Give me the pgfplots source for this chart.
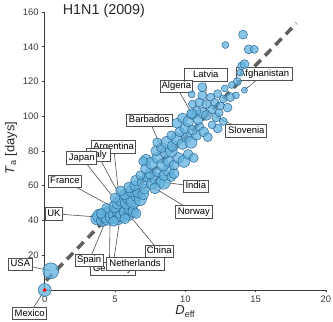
\documentclass[border=0pt]{standalone}
\usepackage{pgfplots}
\pgfplotsset{compat=1.18}
\usepackage{fontspec}
\setmainfont{Liberation Sans}
\definecolor{fillb}{RGB}{98,178,222}
\definecolor{edgeb}{RGB}{45,105,150}
\definecolor{dashg}{RGB}{95,95,95}
\definecolor{axg}{RGB}{60,60,60}
\definecolor{boxg}{RGB}{80,80,80}
\tikzset{lbl/.style={draw=boxg, fill=white, line width=0.7pt, font=\fontsize{9.5}{11}\selectfont, inner xsep=1.5pt, inner ysep=0pt, minimum height=12.5pt, text height=7pt, text depth=2pt}}
\pgfplotstableread{
x y r
0 0 6.5
0.43 11 8
3.7 41 6
3.9 42.5 7
4.1 40 6
4.3 43 7.5
4.5 41 6.5
4.6 45 6
4.8 42 7
5.0 44 7
5.2 41 6
5.3 46 7.5
5.5 43 6.5
5.6 48 6
5.8 45 7
6.0 43 5.5
6.1 47 6.5
6.3 45 5.5
4.4 47 5
5.0 48 6
4.0 44 5
6.5 44 5
5.7 41 5
4.9 39.5 5
5.2 50 6
5.5 52 7
5.8 50 6
6.0 53 6.5
6.3 51 7
6.5 54 5.5
6.8 52 6
5.7 55 5.5
6.2 57 6
6.6 56 5
7.0 55 5.5
6.0 59 5.5
6.4 60 5
7.1 58 5
5.0 53 5
5.4 57 5
6.5 63 5.5
7.0 62 6
7.3 65 5.5
7.6 61 5.5
7.9 64 6
8.2 62 5.5
8.43 62 7
7.84 58.5 5.5
7.5 67 5.5
8.0 68 5
8.5 66 5.5
8.8 69 6
6.8 66 4.5
7.2 70 5.5
9.0 65 4.5
9.2 67 5
7.2 75 5.5
7.6 73 6
8.0 76 5.5
8.4 72 6
8.8 74 5.5
9.2 72 5
9.5 76 5.5
9.9 74 6
10.2 78 5
8.6 79 5.5
9.0 80 6
7.9 80 5
10.6 76 4.5
7.0 74 4.5
8.3 82 5
8.7 85 6
9.1 83 5.5
9.4 87 6
9.8 84 5.5
10.1 88 5.5
10.4 85 6
10.8 89 5
9.0 89 4.5
9.6 91 5
10.0 93 5.5
10.5 92 5
11.0 94 4.5
11.3 91 5
8.0 85 4.5
11.6 88 4.5
12.3 93 4.5
11.9 95 4
9.4 96 5
9.8 99 5
10.2 97 5.5
10.5 101 5
10.9 98 5
11.2 102 5.5
11.5 100.5 5
11.9 104 4.5
12.2 99.4 4.5
12.4 102 4
12.7 97 4
10.8 103 4.5
10.45 101.5 5
10.5 107 4
11.0 108 4.5
11.5 107 4.5
12.1 108 4
12.5 106 4
13.0 105 4.5
11.2 112 4.5
11.8 111 4
12.3 113 4
12.7 110 4
13.2 111 4.5
13.6 112 3.5
10.45 112.6 3.5
11.2 116.7 4.5
12.8 116 3.5
13.3 118 3.5
13.7 120 4
14.2 115 3
14.0 129 4
14.2 130 4.5
13.9 125 3.5
14.5 138.5 4.5
14.9 138.5 4
12.85 141 3.5
14.1 147 4.5
}\pts
\begin{document}
\begin{tikzpicture}
\begin{axis}[
 width=281.3bp, height=278bp, scale only axis,
 xmin=0, xmax=20, ymin=0, ymax=160,
 axis x line=bottom, axis y line=left,
 axis line style={-, axg, line width=0.7pt},
 xtick={0,5,10,15,20}, ytick={20,40,...,160},
 tick align=outside, major tick length=2.5pt,
 tick style={axg, line width=0.6pt},
 ticklabel style={font=\fontsize{9.5}{11}\selectfont, text=axg},
 /pgf/number format/assume math mode=true,
 clip=false,
]
\addplot[scatter, only marks, mark=*,
 scatter/use mapped color={draw=edgeb, fill=fillb},
 mark options={fill opacity=0.75, line width=0.5pt},
 visualization depends on={\thisrow{r}\as\rr},
 scatter/@pre marker code/.append style={/tikz/mark size=\rr pt}]
 table[x=x,y=y,meta=r]{\pts};
\addplot[only marks, mark=*, mark size=1.6pt, color=red] coordinates {(0,0)};
\addplot[dashg, line width=3.5pt, dash pattern=on 9pt off 6pt] coordinates {(0.1,5.4) (17.9,153.5)};

% connectors
\draw[boxg, line width=0.6pt] (axis cs:11.45,123.7) -- (axis cs:11.5,100.5);
\draw[boxg, line width=0.6pt] (axis cs:9.36,117.2) -- (axis cs:10.45,101.5);
\draw[boxg, line width=0.6pt] (axis cs:15.6,124.4) -- (axis cs:14.2,115);
\draw[boxg, line width=0.6pt] (axis cs:14.33,91.6) -- (axis cs:12.2,99.4);
\draw[boxg, line width=0.6pt] (axis cs:7.43,97.7) -- (axis cs:8.55,77);
\draw[boxg, line width=0.6pt] (axis cs:4.9,82.3) -- (axis cs:5.3,52);
\draw[boxg, line width=0.6pt] (axis cs:3.79,77.7) -- (axis cs:6.0,44);
\draw[boxg, line width=0.6pt] (axis cs:2.63,76.1) -- (axis cs:5.6,46);
\draw[boxg, line width=0.6pt] (axis cs:1.44,62.6) -- (axis cs:4.65,48.6);
\draw[boxg, line width=0.6pt] (axis cs:0.65,43.9) -- (axis cs:3.93,41.9);
\draw[boxg, line width=0.6pt] (axis cs:-1.73,14.8) -- (axis cs:0.43,11);
\draw[boxg, line width=0.6pt] (axis cs:-1.07,-13.6) -- (axis cs:0,0);
\draw[boxg, line width=0.6pt] (axis cs:3.16,17.0) -- (axis cs:4.3,39);
\draw[boxg, line width=0.6pt] (axis cs:4.82,12.2) -- (axis cs:5.35,41.3);
\draw[boxg, line width=0.6pt] (axis cs:4.6,15.1) -- (axis cs:4.65,42);
\draw[boxg, line width=0.6pt] (axis cs:8.14,22.3) -- (axis cs:5.5,48);
\draw[boxg, line width=0.6pt] (axis cs:10.74,59.6) -- (axis cs:8.43,62);
\draw[boxg, line width=0.6pt] (axis cs:10.6,45.0) -- (axis cs:7.84,58.5);

% labels
\node[lbl, minimum width=43pt] at (axis cs:11.45,123.7) {Latvia};
\node[lbl, minimum width=32.7pt] at (axis cs:9.36,117.2) {Algeria};
\node[lbl, minimum width=56.3pt] at (axis cs:15.6,124.4) {Afghanistan};
\node[lbl, minimum width=41pt] at (axis cs:14.33,91.6) {Slovenia};
\node[lbl, minimum width=46.3pt] at (axis cs:7.43,97.7) {Barbados};
\node[lbl, minimum width=44pt] at (axis cs:4.9,82.3) {Argentina};
\node[lbl, minimum width=24pt] at (axis cs:3.79,77.7) {Italy};
\node[lbl, minimum width=30pt] at (axis cs:2.63,76.1) {Japan};
\node[lbl, minimum width=33.3pt] at (axis cs:1.44,62.6) {France};
\node[lbl, minimum width=17.7pt] at (axis cs:0.65,43.9) {UK};
\node[lbl, minimum width=24pt] at (axis cs:-1.73,14.8) {USA};
\node[lbl, minimum width=34pt] at (axis cs:-1.07,-13.6) {Mexico};
\node[lbl, minimum width=45pt] at (axis cs:4.82,12.2) {Germany};
\node[lbl, minimum width=28.3pt] at (axis cs:3.16,17.0) {Spain};
\node[lbl, minimum width=58pt] at (axis cs:6.42,15.1) {Netherlands};
\node[lbl, minimum width=28.3pt] at (axis cs:8.14,22.3) {China};
\node[lbl, minimum width=25pt] at (axis cs:10.74,59.6) {India};
\node[lbl, minimum width=37.7pt] at (axis cs:10.6,45.0) {Norway};

% title and axis labels
\node[anchor=base west, font=\fontsize{14.4}{16}\selectfont, text={rgb,255:red,40;green,40;blue,40}] at (axis cs:1.04,158.8) {H1N1 (2009)};
\node[anchor=base, font=\fontsize{13}{15}\selectfont, text={rgb,255:red,40;green,40;blue,40}] at (axis cs:10,-14.4) {\textit{D}\textsubscript{eff}};
\node[rotate=90, anchor=center, font=\fontsize{13}{15}\selectfont, text={rgb,255:red,40;green,40;blue,40}] at (axis cs:-2.4,81.7) {\textit{T}\textsubscript{a} [days]};

\coordinate (bbl) at (rel axis cs:-0.159,-0.1151);
\coordinate (btr) at (rel axis cs:1.0249,1.0432);
\end{axis}
\pgfresetboundingbox
\path[use as bounding box] (bbl) rectangle (btr);
\end{tikzpicture}
\end{document}
